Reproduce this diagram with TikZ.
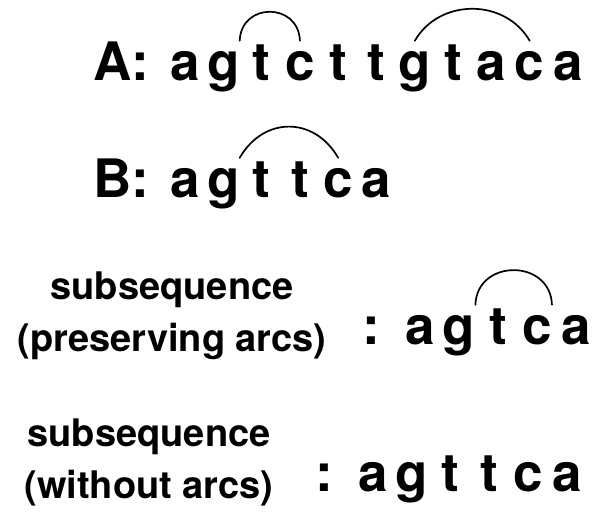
\documentclass[tikz,border=0pt]{standalone}
\usepackage{fontspec}
\setmainfont{TeX Gyre Heros}
\usetikzlibrary{calc}
\tikzset{
  seqchar/.style = {anchor=base, inner sep=0pt, text height=40pt,
    font=\bfseries\fontsize{53}{60}\selectfont},
  seqname/.style = {seqchar, anchor=base west},
  caption/.style = {anchor=base, inner sep=0pt,
    font=\bfseries\fontsize{38}{46}\selectfont},
  pairing/.style = {line width=1.7pt, line cap=round}
}

\begin{document}
\begin{tikzpicture}[x=1pt,y=1pt]
  \useasboundingbox (0,0) rectangle (604,521);
  \pgfmathsetmacro{\pitch}{38.3};
  % sequence A
  \node[seqname] (A) at (93,440) {A:};
  \foreach \c [count=\i] in {a,g,t,c,t,t,g,t,a,c,a} {%
    \node[seqchar] (A\i) at ({185+\pitch*(\i-1)},440) {\c};
  }
  \draw[pairing] (A2.north east) to[out=88,in=92,looseness=1.65] (A4.north);
  \draw[pairing] (A7.north) to[out=60,in=120,looseness=1.1] (A10.north);
  % sequence B
  \node[seqname] (B) at (93,323) {B:};
  \foreach \c [count=\i] in {a,g,t,t,c,a} {%
    \node[seqchar] (B\i) at ({185+\pitch*(\i-1)},323) {\c};
  }
  \draw[pairing] (B2.north east) to[out=60,in=120,looseness=1.25] (B5.north);
  % common subsequence, arcs kept
  \node[caption] (capP1) at (172,221) {subsequence};
  \node[caption] (capP2) at (172,169) {(preserving arcs)};
  \node[seqchar] (P) at (371,176) {:};
  \foreach \c [count=\i] in {a,g,t,c,a} {%
    \node[seqchar] (P\i) at ({420+39*(\i-1)},176) {\c};
  }
  \draw[pairing] (P2.north east) to[out=88,in=92,looseness=1.55] (P4.north east);
  % common subsequence, arcs dropped
  \node[caption] (capW1) at (149,74) {subsequence};
  \node[caption] (capW2) at (149,22) {(without arcs)};
  \node[seqchar] (W) at (324,29) {:};
  \foreach \c [count=\i] in {a,g,t,t,c,a} {%
    \node[seqchar] (W\i) at ({373+38.8*(\i-1)},29) {\c};
  }
\end{tikzpicture}
\end{document}
